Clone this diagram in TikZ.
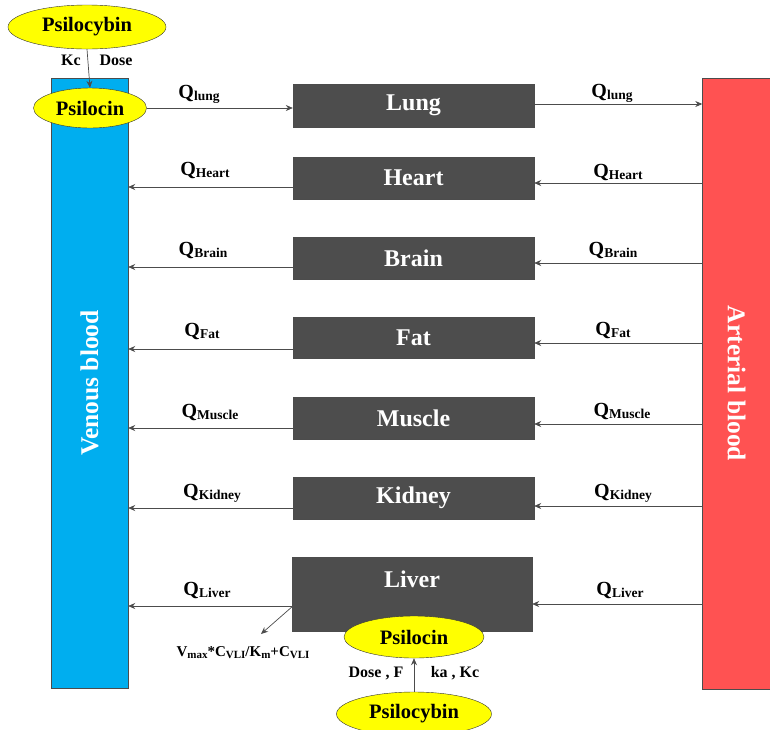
\documentclass[tikz,border=0pt]{standalone}
\usepackage{fontspec}
\setmainfont{Liberation Serif}
\usetikzlibrary{shapes.geometric,arrows.meta}
\definecolor{venous}{HTML}{00AEEF}
\definecolor{arterial}{HTML}{FF5252}
\definecolor{organ}{HTML}{4D4D4D}
\definecolor{drug}{HTML}{FFFF00}
\newcommand{\Qlab}[1]{\fontsize{20}{20}\selectfont\bfseries Q\raisebox{-0.3ex}{\fontsize{13.5}{13.5}\selectfont #1}}
\newcommand{\subl}[1]{\raisebox{-0.3ex}{\fontsize{11}{11}\selectfont #1}}
\begin{document}
\begin{tikzpicture}[x=1pt,y=-1pt,
  organbox/.style={draw=black!70,fill=organ,text=white,font=\fontsize{24}{24}\selectfont\bfseries,minimum width=241pt,inner sep=0pt},
  drugnode/.style={ellipse,draw=black!80,fill=drug,font=\fontsize{20.5}{20.5}\selectfont\bfseries,inner sep=0pt},
  flow/.style={draw=black!70,line width=0.7pt,-{Stealth[length=7pt,width=6pt]}},
  qlab/.style={inner sep=0pt,anchor=base},
  small/.style={font=\fontsize{16}{16}\selectfont\bfseries,inner sep=0pt}]
\useasboundingbox (0,0) rectangle (770,729);
% blood compartments
\node[draw=black!70,fill=venous,minimum width=77pt,minimum height=610pt,inner sep=0pt] (ven) at (89.5,383) {};
\node[rotate=90,text=white,font=\fontsize{25.5}{25.5}\selectfont\bfseries] at (ven.center) {Venous blood};
\node[draw=black!70,fill=arterial,minimum width=68pt,minimum height=611pt,inner sep=0pt] (art) at (736.5,383.5) {};
\node[rotate=-90,text=white,font=\fontsize{25.5}{25.5}\selectfont\bfseries] at (art.center) {Arterial blood};
% organs
\node[organbox,minimum height=43pt] (lung) at (413.5,105.5) {Lung};
\node[organbox,minimum height=42pt] (heart) at (413.5,178) {Heart};
\node[organbox,minimum height=42pt] (brain) at (413.5,258) {Brain};
\node[organbox,minimum height=41pt] (fat) at (413.5,337.5) {Fat};
\node[organbox,minimum height=42pt] (muscle) at (413.5,418) {Muscle};
\node[organbox,minimum height=42pt] (kidney) at (413.5,498) {Kidney};
\node[organbox,minimum width=240pt,minimum height=74pt] (liver) at (412,594) {};
\node[text=white,font=\fontsize{24}{24}\selectfont\bfseries] (livertxt) at (412,579) {Liver};
% drug ellipses
\node[drugnode,minimum width=158pt,minimum height=44pt] (pcyb1) at (87,27) {Psilocybin};
\node[drugnode,minimum width=113pt,minimum height=40pt] (pcin1) at (90,108) {Psilocin};
\node[drugnode,minimum width=140pt,minimum height=42pt] (pcin2) at (414,637) {Psilocin};
\node[drugnode,minimum width=155pt,minimum height=44pt] (pcyb2) at (414,714) {Psilocybin};
% top dosing
\draw[flow] (pcyb1.south) -- (pcin1.north);
\node[small] at (71,60) {Kc};
\node[small] at (116,60) {Dose};
% lung
\draw[flow] (pcin1.east) -- (lung.west |- pcin1.east);
\node[qlab] at (199,98) {\Qlab{lung}};
\coordinate (lungout) at (lung.east |- 0,104);
\draw[flow] (lungout) -- (art.west |- lungout);
\node[qlab] at (612,97) {\Qlab{lung}};
% organs flows: name / right y / left y
\foreach \o/\ya/\yb in {heart/183/187,brain/263/267,fat/343/349,muscle/424/428,kidney/506/508,liver/604/606}{
  \draw[flow] (art.west |- 0,\ya) -- (\o.east |- 0,\ya);
  \draw[flow] (\o.west |- 0,\yb) -- (ven.east |- 0,\yb);
}
\node[qlab] at (205,175) {\Qlab{Heart}};
\node[qlab] at (618,177) {\Qlab{Heart}};
\node[qlab] at (203,255) {\Qlab{Brain}};
\node[qlab] at (613,255) {\Qlab{Brain}};
\node[qlab] at (202,336) {\Qlab{Fat}};
\node[qlab] at (613,335) {\Qlab{Fat}};
\node[qlab] at (210,417) {\Qlab{Muscle}};
\node[qlab] at (622,416) {\Qlab{Muscle}};
\node[qlab] at (212,497) {\Qlab{Kidney}};
\node[qlab] at (623,497) {\Qlab{Kidney}};
\node[qlab] at (207,595) {\Qlab{Liver}};
\node[qlab] at (620,595) {\Qlab{Liver}};
% metabolism
\coordinate (metab) at (261,634);
\draw[flow] (liver.west |- 0,607) -- (metab);
\node[font=\fontsize{15}{15}\selectfont\bfseries,inner sep=0pt] (vmax) at (243,653) {V\subl{max}*C\subl{VLI}/K\subl{m}+C\subl{VLI}};
% oral dosing
\draw[flow] (pcyb2.north) -- (pcin2.south);
\node[small] at (376,673) {Dose , F};
\node[small] at (455,673) {ka , Kc};
\end{tikzpicture}
\end{document}
